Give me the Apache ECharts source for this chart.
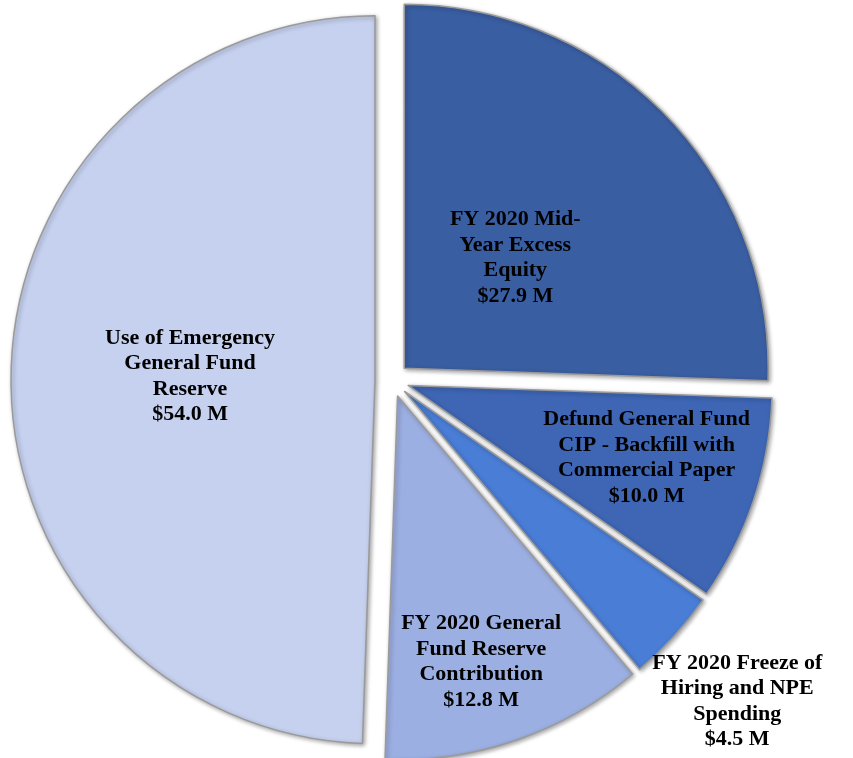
<!DOCTYPE html>
<html>
<head>
<meta charset="utf-8">
<script src="https://cdn.jsdelivr.net/npm/echarts@6/dist/echarts.min.js"></script>
<style>
html,body{margin:0;padding:0;background:#fff;}
#chart{width:853px;height:758px;}
</style>
</head>
<body>
<div id="chart"></div>
<script>
// Data
var categories = [
  'FY 2020 Mid-Year Excess Equity',
  'Defund General Fund CIP - Backfill with Commercial Paper',
  'FY 2020 Freeze of Hiring and NPE Spending',
  'FY 2020 General Fund Reserve Contribution',
  'Use of Emergency General Fund Reserve'
];
var labelText = [
  'FY 2020 Mid-\nYear Excess\nEquity',
  'Defund General Fund\nCIP - Backfill with\nCommercial Paper',
  'FY 2020 Freeze of\nHiring and NPE\nSpending',
  'FY 2020 General\nFund Reserve\nContribution',
  'Use of Emergency\nGeneral Fund\nReserve'
];
var values = [27.9, 10.0, 4.5, 12.8, 54.0];
var colors = ['#3A5EA2', '#3E66B5', '#4A7DD6', '#9CAFE2', '#C6D1F0'];
// label nudges (px) from the default inside position
var labelShift = [[-22, 18], [63, 14], [196, 185], [23, 91], [0, 0]];

var chart = echarts.init(document.getElementById('chart'), null, {renderer: 'canvas'});
var data = values.map(function (v, i) {
  return {
    name: categories[i],
    value: v,
    selected: true,
    itemStyle: {color: colors[i]},
    select: {itemStyle: {color: colors[i]}}
  };
});
chart.setOption({
  animation: false,
  series: [{
    type: 'pie',
    center: [392, 380],
    radius: [0, 364],
    startAngle: 90,
    clockwise: true,
    selectedMode: 'multiple',
    selectedOffset: 17,
    avoidLabelOverlap: false,
    silent: true,
    itemStyle: {
      borderColor: '#9a9a9a',
      borderWidth: 1.5,
      shadowBlur: 4,
      shadowOffsetX: 1.5,
      shadowOffsetY: 1.5,
      shadowColor: 'rgba(0,0,0,0.35)'
    },
    label: {
      show: true,
      position: 'inside',
      color: '#000',
      fontFamily: 'Liberation Serif',
      fontWeight: 'bold',
      fontSize: 22,
      lineHeight: 25.5,
      align: 'center',
      formatter: function (p) {
        return labelText[p.dataIndex] + '\n$' + p.value.toFixed(1) + ' M';
      }
    },
    labelLine: {show: false},
    labelLayout: function (p) {
      var s = labelShift[p.dataIndex];
      return {dx: s[0], dy: s[1]};
    },
    data: data
  }]
});
</script>
</body>
</html>
